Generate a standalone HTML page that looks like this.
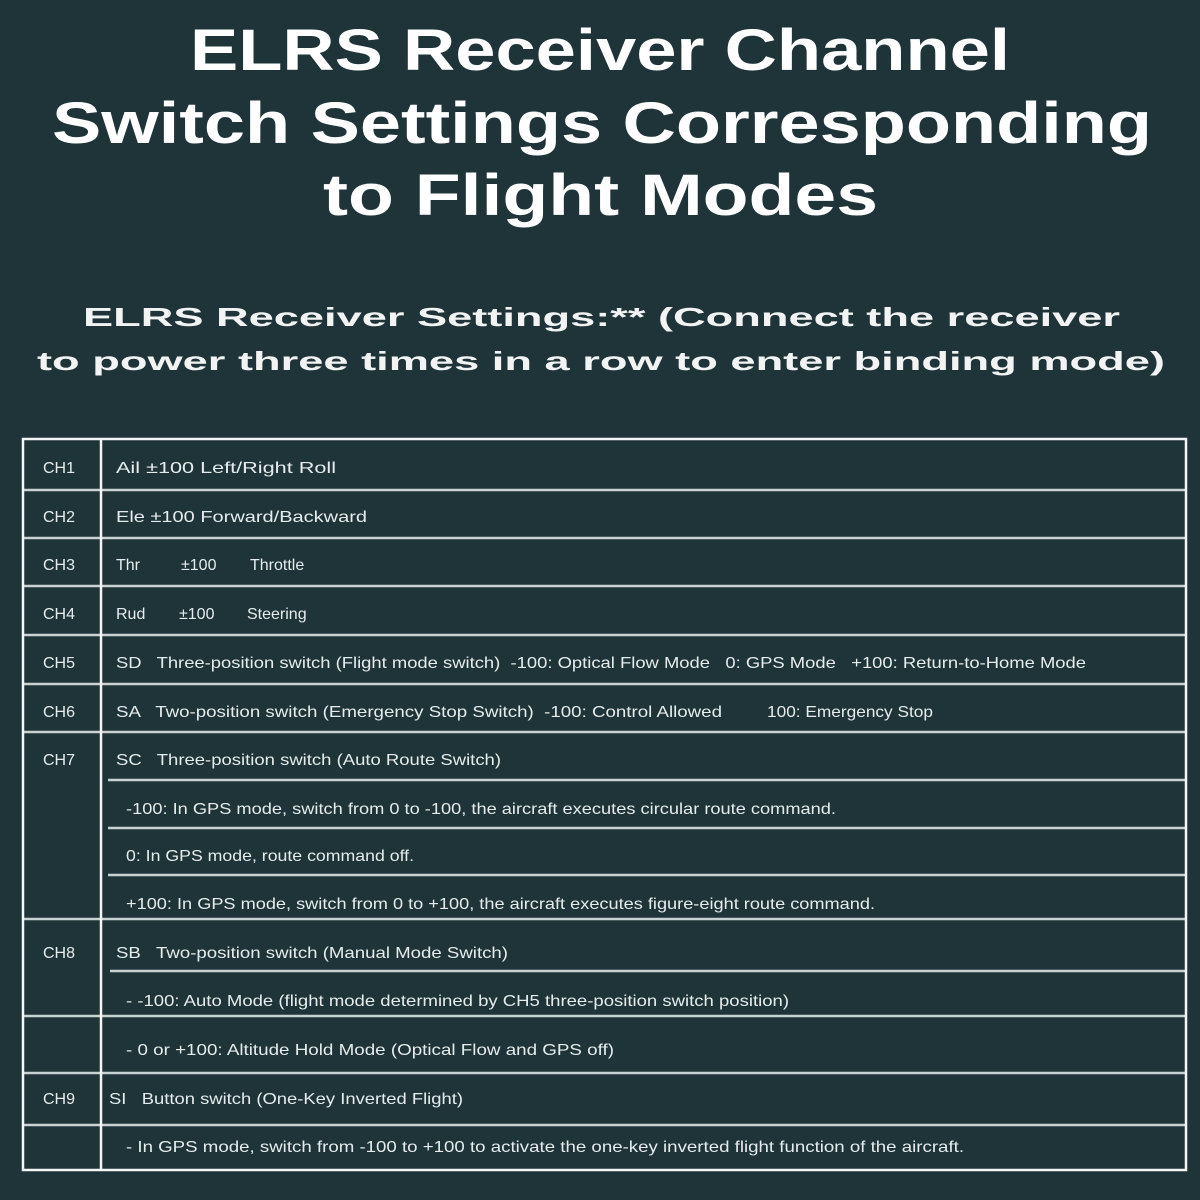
<!DOCTYPE html>
<html><head><meta charset="utf-8"><style>
html,body{margin:0;padding:0;background:#1f3438;}
svg{display:block;}
.t{font-family:"Liberation Sans",sans-serif;font-weight:bold;fill:#fff;}
.s{font-family:"Liberation Sans",sans-serif;font-weight:bold;fill:#f2f4f4;}
.r{font-family:"Liberation Sans",sans-serif;fill:#e6ecec;font-size:16px;}
</style></head><body>
<svg width="1200" height="1200" viewBox="0 0 1200 1200" xmlns="http://www.w3.org/2000/svg">
<rect width="1200" height="1200" fill="#1f3438"/>
<text class="t" x="190" y="70" font-size="58" textLength="820" lengthAdjust="spacingAndGlyphs">ELRS Receiver Channel</text>
<text class="t" x="52" y="143" font-size="58" textLength="1100" lengthAdjust="spacingAndGlyphs">Switch Settings Corresponding</text>
<text class="t" x="323" y="215" font-size="58" textLength="555" lengthAdjust="spacingAndGlyphs">to Flight Modes</text>
<text class="s" x="83" y="326" font-size="26" textLength="1037" lengthAdjust="spacingAndGlyphs">ELRS Receiver Settings:** (Connect the receiver</text>
<text class="s" x="37" y="370" font-size="26" textLength="1128" lengthAdjust="spacingAndGlyphs">to power three times in a row to enter binding mode)</text>

<g stroke="#c9d2d2" stroke-width="2.5" fill="none">
<line x1="23" y1="490" x2="1186" y2="490"/>
<line x1="23" y1="538" x2="1186" y2="538"/>
<line x1="23" y1="586" x2="1186" y2="586"/>
<line x1="23" y1="635" x2="1186" y2="635"/>
<line x1="23" y1="684" x2="1186" y2="684"/>
<line x1="23" y1="732" x2="1186" y2="732"/>
<line x1="108" y1="780" x2="1186" y2="780"/>
<line x1="108" y1="828" x2="1186" y2="828"/>
<line x1="108" y1="875" x2="1186" y2="875"/>
<line x1="23" y1="919" x2="1186" y2="919"/>
<line x1="110" y1="971" x2="1186" y2="971"/>
<line x1="23" y1="1016" x2="1186" y2="1016"/>
<line x1="23" y1="1073" x2="1186" y2="1073"/>
<line x1="23" y1="1125" x2="1186" y2="1125"/>
</g>
<g stroke="#f4f6f6" stroke-width="2.5" fill="none">
<rect x="23" y="439" width="1163" height="731"/>
<line x1="101" y1="439" x2="101" y2="1170"/>
</g>

<g class="r">
<text x="43" y="473">CH1</text>
<text x="43" y="522">CH2</text>
<text x="43" y="570">CH3</text>
<text x="43" y="619">CH4</text>
<text x="43" y="668">CH5</text>
<text x="43" y="717">CH6</text>
<text x="43" y="765">CH7</text>
<text x="43" y="958">CH8</text>
<text x="43" y="1104">CH9</text>

<text x="116" y="473" textLength="220" lengthAdjust="spacingAndGlyphs">Ail ±100   Left/Right Roll</text>
<text x="116" y="522" textLength="251" lengthAdjust="spacingAndGlyphs">Ele  ±100   Forward/Backward</text>
<text x="116" y="570">Thr</text><text x="181" y="570">±100</text><text x="250" y="570">Throttle</text>
<text x="116" y="619">Rud</text><text x="179" y="619">±100</text><text x="247" y="619">Steering</text>
<text x="116" y="668" textLength="970" lengthAdjust="spacingAndGlyphs" xml:space="preserve">SD   Three-position switch (Flight mode switch)  -100: Optical Flow Mode   0: GPS Mode   +100: Return-to-Home Mode</text>
<text x="116" y="717" textLength="606" lengthAdjust="spacingAndGlyphs" xml:space="preserve">SA   Two-position switch (Emergency Stop Switch)  -100: Control Allowed</text>
<text x="767" y="717" textLength="166" lengthAdjust="spacingAndGlyphs">100: Emergency Stop</text>
<text x="116" y="765" textLength="385" lengthAdjust="spacingAndGlyphs" xml:space="preserve">SC   Three-position switch (Auto Route Switch)</text>
<text x="126" y="814" textLength="710" lengthAdjust="spacingAndGlyphs">-100: In GPS mode, switch from 0 to -100, the aircraft executes circular route command.</text>
<text x="126" y="861" textLength="288" lengthAdjust="spacingAndGlyphs">0: In GPS mode, route command off.</text>
<text x="126" y="909" textLength="749" lengthAdjust="spacingAndGlyphs">+100: In GPS mode, switch from 0 to +100, the aircraft executes figure-eight route command.</text>
<text x="116" y="958" textLength="392" lengthAdjust="spacingAndGlyphs" xml:space="preserve">SB   Two-position switch (Manual Mode Switch)</text>
<text x="126" y="1006" textLength="663" lengthAdjust="spacingAndGlyphs">- -100: Auto Mode (flight mode determined by CH5 three-position switch position)</text>
<text x="126" y="1055" textLength="488" lengthAdjust="spacingAndGlyphs">- 0 or +100: Altitude Hold Mode (Optical Flow and GPS off)</text>
<text x="109" y="1104" textLength="354" lengthAdjust="spacingAndGlyphs" xml:space="preserve">SI   Button switch (One-Key Inverted Flight)</text>
<text x="126" y="1152" textLength="838" lengthAdjust="spacingAndGlyphs">- In GPS mode, switch from -100 to +100 to activate the one-key inverted flight function of the aircraft.</text>
</g>
</svg>
</body></html>
